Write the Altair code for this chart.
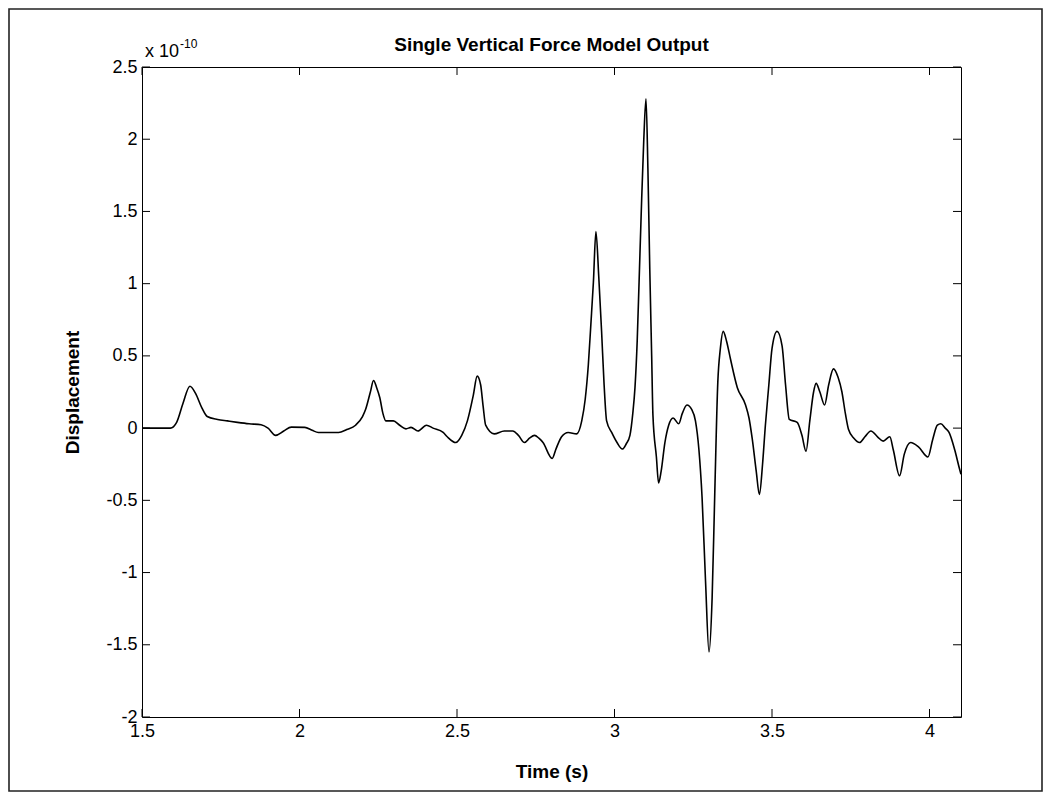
import altair as alt
import pandas as pd

# ---- data (values in units of 1e-10) ----
T = [1.50, 1.55, 1.59, 1.61, 1.63, 1.652, 1.67, 1.69, 1.707, 1.74, 1.771, 1.803, 1.84, 1.878,
     1.90, 1.924, 1.95, 1.974, 2.017, 2.04, 2.06, 2.10, 2.124, 2.15, 2.178, 2.20, 2.21, 2.225,
     2.235, 2.245, 2.255, 2.265, 2.274, 2.298, 2.318, 2.338, 2.354, 2.376, 2.403, 2.424, 2.456,
     2.469, 2.496, 2.515, 2.533, 2.552, 2.564, 2.575, 2.583, 2.591, 2.618, 2.65, 2.677, 2.695,
     2.714, 2.73, 2.746, 2.76, 2.773, 2.802, 2.815, 2.832, 2.853, 2.88, 2.896, 2.907, 2.917,
     2.925, 2.933, 2.941, 2.95, 2.959, 2.967, 2.975, 2.991, 3.008, 3.025, 3.037, 3.049, 3.058,
     3.065, 3.072, 3.078, 3.085, 3.093, 3.10, 3.106, 3.112, 3.118, 3.122, 3.133, 3.14, 3.148,
     3.16, 3.172, 3.186, 3.204, 3.215, 3.23, 3.245, 3.257, 3.268, 3.278, 3.289, 3.30, 3.31,
     3.318, 3.328, 3.336, 3.345, 3.356, 3.368, 3.39, 3.416, 3.427, 3.437, 3.45, 3.46, 3.47,
     3.479, 3.49, 3.50, 3.516, 3.532, 3.543, 3.555, 3.58, 3.595, 3.608, 3.62, 3.632, 3.64,
     3.652, 3.667, 3.68, 3.695, 3.71, 3.722, 3.733, 3.743, 3.76, 3.778, 3.795, 3.814, 3.835,
     3.853, 3.874, 3.885, 3.905, 3.92, 3.94, 3.965, 3.995, 4.01, 4.025, 4.036, 4.05, 4.062,
     4.08, 4.095, 4.10]
V = [0.0, 0.0, 0.0, 0.04, 0.17, 0.29, 0.24, 0.14, 0.08, 0.06, 0.05, 0.04, 0.03, 0.023,
     0.0, -0.05, -0.02, 0.007, 0.005, -0.015, -0.03, -0.03, -0.03, -0.01, 0.02, 0.08, 0.13, 0.25,
     0.33, 0.28, 0.21, 0.10, 0.05, 0.05, 0.02, -0.005, 0.005, -0.02, 0.02, 0.0, -0.03,
     -0.06, -0.10, -0.05, 0.05, 0.23, 0.36, 0.30, 0.15, 0.02, -0.04, -0.02, -0.02, -0.05,
     -0.10, -0.07, -0.05, -0.07, -0.10, -0.21, -0.14, -0.06, -0.03, -0.04, 0.05, 0.20, 0.44,
     0.72, 1.01, 1.36, 1.05, 0.67, 0.30, 0.05, -0.03, -0.10, -0.145, -0.11, -0.05, 0.10,
     0.28, 0.60, 1.01, 1.50, 2.00, 2.28, 1.80, 1.10, 0.50, 0.09, -0.20, -0.38, -0.30,
     -0.10, 0.02, 0.07, 0.03, 0.10, 0.16, 0.13, 0.05, -0.15, -0.48, -1.06, -1.55, -1.17,
     -0.48, 0.32, 0.55, 0.67, 0.60, 0.48, 0.28, 0.16, 0.07, -0.07, -0.30, -0.46, -0.25,
     0.02, 0.30, 0.55, 0.67, 0.57, 0.30, 0.06, 0.04, -0.05, -0.16, 0.05, 0.25, 0.31,
     0.25, 0.16, 0.30, 0.41, 0.35, 0.25, 0.10, -0.01, -0.07, -0.10, -0.06, -0.02, -0.06,
     -0.09, -0.06, -0.15, -0.33, -0.18, -0.10, -0.13, -0.20, -0.08, 0.02, 0.03, 0.0, -0.03,
     -0.15, -0.28, -0.32]

X_TICKS = [1.5, 2, 2.5, 3, 3.5, 4]
Y_TICKS = [-2, -1.5, -1, -0.5, 0, 0.5, 1, 1.5, 2, 2.5]
X_DOMAIN = [1.5, 4.1]
Y_DOMAIN = [-2, 2.5]
TITLE = "Single Vertical Force Model Output"
X_TITLE = "Time (s)"
Y_TITLE = "Displacement"
EXP_BASE = ["x 10"]
EXP_POWER = ["-10"]

# ---- layout / style ----
W, H = 819, 650
FONT = "Liberation Sans"
TICK = 8

df = pd.DataFrame({"t": T, "v": V})
xt = pd.DataFrame({"t": X_TICKS})
yt = pd.DataFrame({"v": Y_TICKS})
exp_base = pd.DataFrame({"t": [X_DOMAIN[0]], "v": [Y_DOMAIN[1]], "s": EXP_BASE})
exp_pow = pd.DataFrame({"t": [X_DOMAIN[0]], "v": [Y_DOMAIN[1]], "s": EXP_POWER})

xscale = alt.Scale(domain=X_DOMAIN, nice=False, zero=False)
yscale = alt.Scale(domain=Y_DOMAIN, nice=False, zero=False)

xaxis = alt.Axis(values=X_TICKS, ticks=False, domain=False, grid=False, labelFlush=False,
                 labelExpr="'' + datum.value", labelFont=FONT, labelFontSize=18,
                 labelColor="black", labelPadding=5, title=X_TITLE, titleFont=FONT,
                 titleFontSize=19, titleFontWeight="bold", titleColor="black", titlePadding=22)
yaxis = alt.Axis(values=Y_TICKS, ticks=False, domain=False, grid=False, labelFlush=False,
                 labelExpr="'' + datum.value", labelFont=FONT, labelFontSize=18,
                 labelColor="black", labelPadding=5, title=Y_TITLE, titleFont=FONT,
                 titleFontSize=19, titleFontWeight="bold", titleColor="black", titlePadding=23)

X = alt.X("t:Q", scale=xscale, axis=xaxis)
Y = alt.Y("v:Q", scale=yscale, axis=yaxis)

line = alt.Chart(df).mark_line(color="black", strokeWidth=1.6, interpolate="monotone").encode(x=X, y=Y)

tick_b = alt.Chart(xt).mark_rule(color="black", strokeWidth=1).encode(
    x=X, y=alt.value(H), y2=alt.value(H - TICK))
tick_t = alt.Chart(xt).mark_rule(color="black", strokeWidth=1).encode(
    x=X, y=alt.value(0), y2=alt.value(TICK))
tick_l = alt.Chart(yt).mark_rule(color="black", strokeWidth=1).encode(
    y=Y, x=alt.value(0), x2=alt.value(TICK))
tick_r = alt.Chart(yt).mark_rule(color="black", strokeWidth=1).encode(
    y=Y, x=alt.value(W), x2=alt.value(W - TICK))

exp1 = alt.Chart(exp_base).mark_text(align="left", baseline="alphabetic", dx=3, dy=-10,
                                     font=FONT, fontSize=18, color="black").encode(
    x=X, y=Y, text="s:N")
exp2 = alt.Chart(exp_pow).mark_text(align="left", baseline="alphabetic", dx=38, dy=-19,
                                    font=FONT, fontSize=12, color="black").encode(
    x=X, y=Y, text="s:N")

frame = alt.Chart(pd.DataFrame({"k": [0]})).mark_rect(
    fill="white", fillOpacity=0, stroke="#222222", strokeWidth=1.6).encode(
    x=alt.value(-133), x2=alt.value(900), y=alt.value(-58), y2=alt.value(724))

chart = alt.layer(frame, line, tick_b, tick_t, tick_l, tick_r, exp1, exp2).properties(
    width=W, height=H,
    title=alt.TitleParams(TITLE, font=FONT, fontSize=19, fontWeight="bold", color="black",
                          anchor="middle", baseline="alphabetic", offset=0, dy=62),
    padding={"left": 134, "top": 59, "right": 83, "bottom": 76},
    autosize=alt.AutoSizeParams(type="none"),
    background="white",
).configure_view(stroke="black", strokeWidth=1)

chart.save("out.html", embed_options={"renderer": "svg", "actions": False})
